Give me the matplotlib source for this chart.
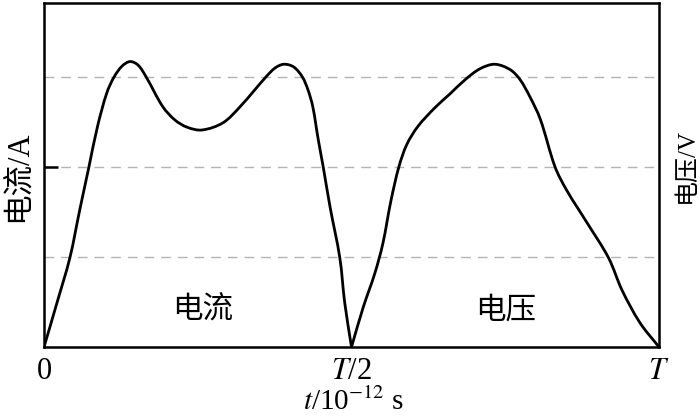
import numpy as np
import matplotlib.pyplot as plt
from matplotlib.path import Path
from matplotlib.patches import PathPatch

# values: t in units of T, y in units of one grid step
t_current = [0.0, 0.021, 0.042, 0.058, 0.073, 0.087, 0.102, 0.114, 0.127,
             0.140, 0.153, 0.166, 0.193, 0.213, 0.233, 0.257, 0.291, 0.319,
             0.361, 0.376, 0.390, 0.406, 0.420, 0.429, 0.437, 0.446, 0.454,
             0.465, 0.481, 0.489, 0.5]
y_current = [0.0, 0.49, 0.99, 1.52, 2.0, 2.45, 2.82, 3.0, 3.12,
             3.17, 3.13, 3.0, 2.67, 2.52, 2.44, 2.41, 2.49, 2.67,
             3.0, 3.1, 3.14, 3.11, 3.0, 2.86, 2.67, 2.3, 2.0,
             1.56, 0.99, 0.49, 0.0]

t_voltage = [0.5, 0.519, 0.538, 0.551, 0.564, 0.577, 0.590, 0.608, 0.636,
             0.660, 0.685, 0.709, 0.733, 0.758, 0.774, 0.790, 0.807, 0.831,
             0.850, 0.883, 0.918, 0.940, 0.969, 1.0]
y_voltage = [0.0, 0.44, 0.82, 1.15, 1.62, 2.0, 2.25, 2.45, 2.66,
             2.81, 2.97, 3.09, 3.14, 3.08, 2.97, 2.78, 2.53, 2.0,
             1.74, 1.38, 0.99, 0.63, 0.27, 0.0]

grid_levels = [1, 2, 3]
x_ticks = [0, 0.5, 1]
x_ticklabels = ['0', '$T$/2', '$T$']


def smooth_path(x, y, sx=615.0, sy=90.0):
    # smooth cubic curve through the read points (tangents from chord lengths)
    p = np.column_stack([x, y]) * [sx, sy]
    d = np.hypot(*np.diff(p, axis=0).T)
    m = np.zeros_like(p)
    m[0] = (p[1] - p[0]) / d[0]
    m[-1] = (p[-1] - p[-2]) / d[-1]
    for i in range(1, len(p) - 1):
        m[i] = (p[i + 1] - p[i - 1]) / (d[i - 1] + d[i])
    verts = [p[0]]
    codes = [Path.MOVETO]
    for i in range(len(p) - 1):
        verts += [p[i] + m[i] * d[i] / 3, p[i + 1] - m[i + 1] * d[i] / 3, p[i + 1]]
        codes += [Path.CURVE4] * 3
    return Path(np.array(verts) / [sx, sy], codes)


plt.rcParams['font.family'] = ['Liberation Serif', 'Noto Sans CJK SC']
plt.rcParams['mathtext.fontset'] = 'stix'

fig = plt.figure(figsize=(7, 4.19), dpi=100)
ax = fig.add_axes([0.0629, 0.1718, 0.8785, 0.821])

for lv in grid_levels:
    ax.axhline(lv, color='#b4b4b4', lw=1.0, dashes=(7, 5), zorder=1)

for xs, ys in [(t_current, y_current), (t_voltage, y_voltage)]:
    ax.add_patch(PathPatch(smooth_path(xs, ys), fill=False, ec='black',
                           lw=2.0, zorder=3, capstyle='round'))

ax.set_xlim(0, 1)
ax.set_ylim(0, 3.82)
for s in ax.spines.values():
    s.set_linewidth(1.8)

ax.set_xticks(x_ticks)
ax.set_xticklabels(x_ticklabels, fontsize=22)
ax.tick_params(axis='x', length=0, pad=7)
ax.set_yticks([2])
ax.set_yticklabels([])
ax.tick_params(axis='y', direction='in', length=10, width=1.8)

fig.text(19 / 700, 1 - 176 / 419, '电流/A', fontsize=22, rotation=90,
         ha='center', va='center')
fig.text(686 / 700, 1 - 165 / 419, '电压/V', fontsize=18, rotation=90,
         ha='center', va='center')
fig.text(354 / 700, 1 - 402 / 419, '$t$/10$^{-12}$ s', fontsize=21,
         ha='center', va='center')

ax.text(0.258, 0.4, '电流', fontsize=22, ha='center', va='center')
ax.text(0.75, 0.4, '电压', fontsize=22, ha='center', va='center')

fig.savefig('out.png', dpi=100)
